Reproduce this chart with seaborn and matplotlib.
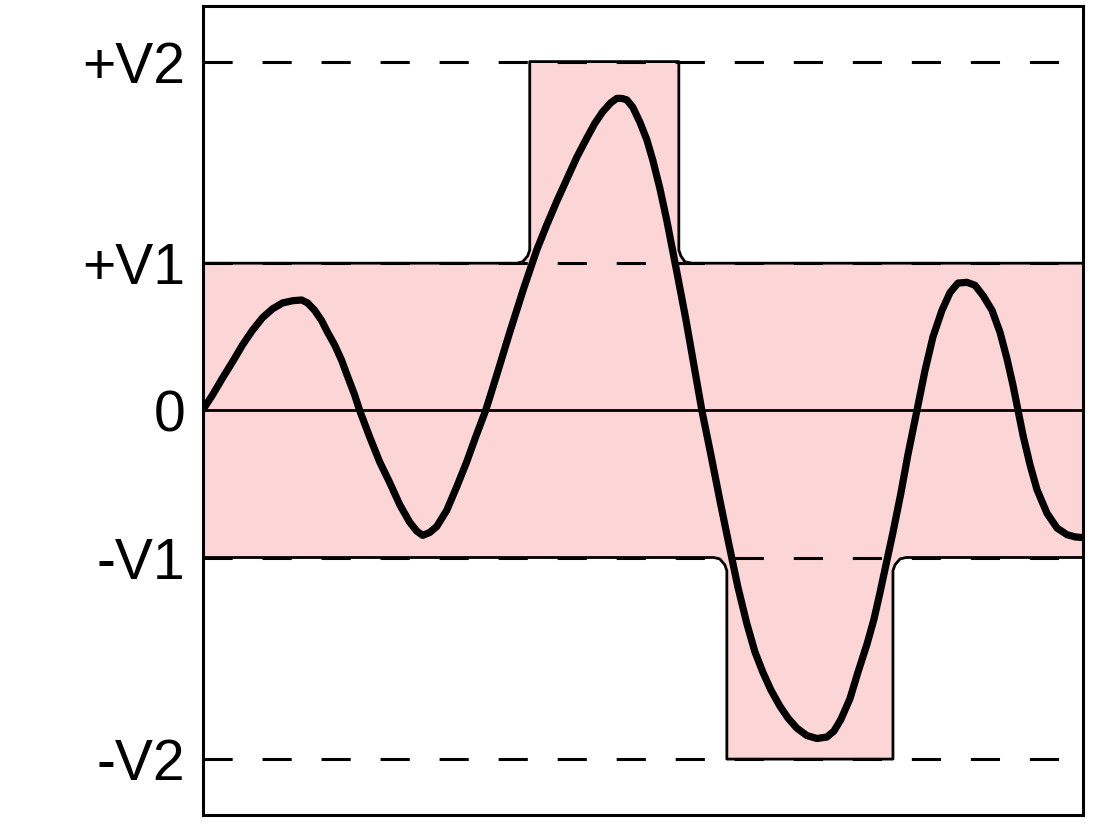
#Importamos librerias
import numpy as np
import matplotlib.pyplot as plt
import seaborn as sns

#Niveles de tension (V1 = 1)
V1 = 1.0
V2 = 2.37
niveles = [V2, V1, 0, -V1, -V2]
etiquetas = ["+V2", "+V1", "0", "-V1", "-V2"]

#Senal (tiempo, tension)
t = [0, 10, 20, 30, 40, 50, 60, 70, 80, 90, 99, 105, 112, 119, 125, 132, 139, 145, 152, 157,
     167, 177, 187, 197, 207, 214, 220, 227, 234, 244, 254, 264, 273, 283,
     294, 307, 321, 334, 344, 354, 364, 374, 384, 392, 400, 408, 414, 419, 424, 430, 437,
     444, 450, 457, 464, 474, 483, 499, 508, 517, 523, 535,
     544, 552, 560, 568, 577, 585, 594, 604, 614, 624, 631, 638, 647, 655, 664, 671, 677,
     683, 690, 698, 705, 714, 722, 730, 739, 747, 755, 764, 772, 780, 789, 797, 804, 810,
     815, 820, 827, 834, 844, 854, 864, 872, 880]
senal = [0.0, 0.105, 0.22, 0.33, 0.445, 0.545, 0.63, 0.69, 0.73, 0.745, 0.75, 0.73, 0.68, 0.61, 0.53, 0.445, 0.34, 0.23, 0.105, 0.0,
         -0.18, -0.35, -0.49, -0.64, -0.76, -0.82, -0.85, -0.83, -0.79, -0.68, -0.52, -0.35, -0.18, 0.0,
         0.24, 0.53, 0.83, 1.09, 1.26, 1.42, 1.57, 1.72, 1.85, 1.95, 2.03, 2.09, 2.12, 2.12, 2.11, 2.06, 1.96,
         1.84, 1.70, 1.51, 1.29, 0.94, 0.62, 0.0, -0.30, -0.61, -0.81, -1.20,
         -1.45, -1.64, -1.78, -1.90, -2.01, -2.09, -2.16, -2.21, -2.23, -2.22, -2.18, -2.10, -1.96, -1.78, -1.59, -1.42, -1.24,
         -1.05, -0.83, -0.56, -0.30, 0.0, 0.27, 0.50, 0.68, 0.80, 0.865, 0.87, 0.85, 0.78, 0.68, 0.53, 0.35, 0.17,
         0.0, -0.17, -0.37, -0.54, -0.70, -0.80, -0.845, -0.86, -0.865]

#Ventana de tolerancia (limite superior e inferior)
sup_t = [0, 314, 320, 325, 327, 327, 476, 476, 478, 482, 489, 880]
sup_v = [1.0, 1.0, 1.01, 1.05, 1.09, 2.37, 2.37, 1.09, 1.05, 1.01, 1.0, 1.0]
inf_t = [0, 511, 517, 522, 524, 524, 690, 690, 692, 697, 703, 880]
inf_v = [-1.0, -1.0, -1.01, -1.05, -1.09, -2.37, -2.37, -1.09, -1.05, -1.01, -1.0, -1.0]

#----------------------------------------------------------------------------------------------------

sns.set_style("white")
plt.rcParams["font.family"] = ["Liberation Sans", "DejaVu Sans"]
plt.rcParams["lines.scale_dashes"] = False

fig = plt.figure(figsize=(10.96, 8.24), dpi=100)
ax = fig.add_axes([0.1848, 0.0109, 0.8034, 0.9822])

#Relleno rosa de la ventana
ax.fill(np.r_[sup_t, inf_t[::-1]], np.r_[sup_v, inf_v[::-1]],
        color="#fcd6d6", lw=0, zorder=1)

#Lineas discontinuas de los niveles
for nivel in [V2, V1, -V1, -V2]:
    ax.axhline(nivel, color="black", lw=2.2, ls=(0, (21, 21.5)), zorder=2)

#Contorno de la ventana
sns.lineplot(x=sup_t, y=sup_v, estimator=None, sort=False,
             color="black", lw=2.0, ax=ax, zorder=3)
sns.lineplot(x=inf_t, y=inf_v, estimator=None, sort=False,
             color="black", lw=2.0, ax=ax, zorder=3)

#Linea de cero
ax.axhline(0, color="black", lw=2.0, zorder=3)

#Senal
sns.lineplot(x=t, y=senal, estimator=None, sort=False, color="black", lw=5.2,
             ax=ax, zorder=4, solid_joinstyle="round", solid_capstyle="butt")

ax.set_xlim(0, 880)
ax.set_ylim(-2.75, 2.75)
ax.set_xticks([])
ax.set_yticks(niveles)
ax.set_yticklabels(etiquetas, fontsize=41, color="black")
ax.tick_params(axis="y", length=0, pad=12.6)
ax.set_xlabel("")
ax.set_ylabel("")

for s in ax.spines.values():
    s.set_visible(True)
    s.set_color("black")
    s.set_linewidth(2.2)

fig.savefig("out.png", dpi=100)
